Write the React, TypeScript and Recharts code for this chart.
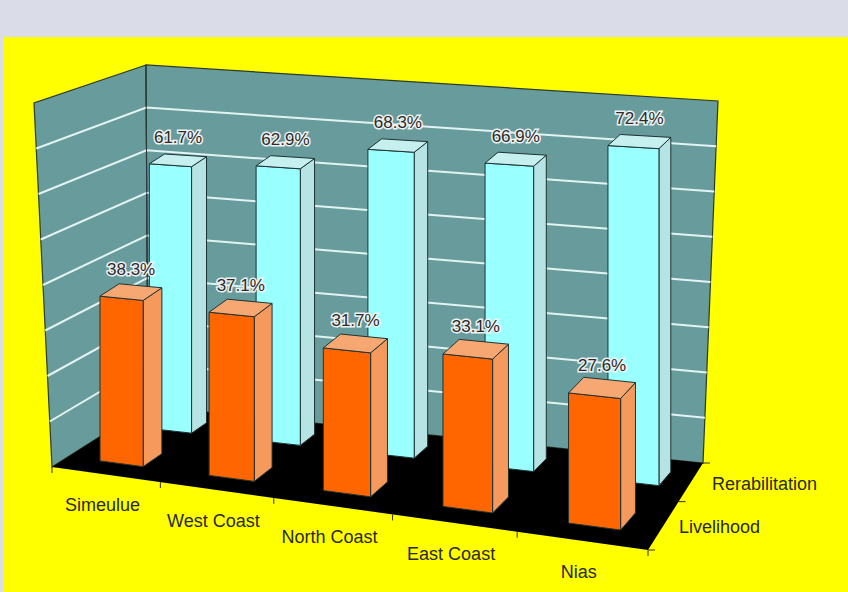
import React from "react";
import { BarChart, Bar, XAxis, YAxis } from "recharts";

const categories = ["Simeulue", "West Coast", "North Coast", "East Coast", "Nias"];
const livelihood = [38.3, 37.1, 31.7, 33.1, 27.6];
const rehabilitation = [61.7, 62.9, 68.3, 66.9, 72.4];
const seriesNames = ["Livelihood", "Rerabilitation"];
const gridTicks = [10, 20, 30, 40, 50, 60, 70];
const Y_MAX = 80;

const data = categories.map((name, i) => ({
  name,
  livelihood: livelihood[i],
  rehab: rehabilitation[i],
}));

const W = 848;
const H = 592;
const FONT = "'Liberation Sans', Arial, sans-serif";

type Pt = [number, number];
const lerp = (p: Pt, q: Pt, t: number): Pt => [p[0] + (q[0] - p[0]) * t, p[1] + (q[1] - p[1]) * t];
// mild perspective along the category and depth directions
const warp = (t: number, r: number) => t / (t + r * (1 - t));
const U_R = 1.125;
const V_R = 0.8;

// box corners as drawn (floor + walls)
const FL: Pt = [52, 467];
const FR: Pt = [648, 550];
const BL: Pt = [148, 406];
const BR: Pt = [703, 463];
const FLt: Pt = [34, 103];
const BLt: Pt = [146, 65];
const BRt: Pt = [718, 101];
// bars stand upright on a slightly wider floor
const BR_BAR: Pt = [720, 463];
const HB = { fl: 342, fr: 387, bl: 341, br: 369 };
// depth span of each row: front = livelihood, back = rehabilitation
const ROWS = [
  [0.14, 0.32],
  [0.64, 0.82],
];

const COLORS = [
  { front: "#ff6600", side: "#f59a5c", top: "#f7a872" },
  { front: "#99ffff", side: "#b6e4e4", top: "#c6efef" },
];

function floorPt(u: number, v: number): Pt {
  const a = warp(u, U_R);
  const b = warp(v, V_R);
  return lerp(lerp(FL, FR, a), lerp(BL, BR, a), b);
}

function barPt(u: number, v: number, w: number): Pt {
  const a = warp(u, U_R);
  const b = warp(v, V_R);
  const base = lerp(lerp(FL, FR, a), lerp(BL, BR_BAR, a), b);
  const h = (HB.fl + (HB.fr - HB.fl) * a) * (1 - b) + (HB.bl + (HB.br - HB.bl) * a) * b;
  return [base[0], base[1] - w * h];
}

const pts = (list: Pt[]) => list.map((p) => p.join(",")).join(" ");

function Bar3D(props: any) {
  const { x, width, height, payload, row, dataKey } = props;
  if (x == null || width == null) return null;
  const u0 = x / W;
  const u1 = (x + width) / W;
  const w = Math.max(0, height) / H;
  const [v0, v1] = ROWS[row];
  const c = COLORS[row];
  const p = (u: number, v: number, h: number) => barPt(u, v, h);
  const front = [p(u0, v0, 0), p(u1, v0, 0), p(u1, v0, w), p(u0, v0, w)];
  const side = [p(u1, v0, 0), p(u1, v1, 0), p(u1, v1, w), p(u1, v0, w)];
  const top = [p(u0, v0, w), p(u1, v0, w), p(u1, v1, w), p(u0, v1, w)];
  const mid = p((u0 + u1) / 2, (v0 + v1) / 2, w);
  const value = payload[dataKey];
  return (
    <g>
      <polygon points={pts(side)} fill={c.side} stroke="#1e3333" strokeWidth={1} strokeLinejoin="round" />
      <polygon points={pts(front)} fill={c.front} stroke="#1e3333" strokeWidth={1} strokeLinejoin="round" />
      <polygon points={pts(top)} fill={c.top} stroke="#1e3333" strokeWidth={1} strokeLinejoin="round" />
      <text
        x={mid[0]}
        y={mid[1] - 17}
        textAnchor="middle"
        fontFamily={FONT}
        fontSize={17}
        fill="#2a2a2a"
        stroke="#eef2f2"
        strokeWidth={3}
        paintOrder="stroke"
      >
        {value.toFixed(1)}%
      </text>
    </g>
  );
}

function Backdrop() {
  const n = categories.length;
  return (
    <svg width={W} height={H} style={{ position: "absolute", left: 0, top: 0 }}>
      <rect x={0} y={0} width={W} height={H} fill="#dadde8" />
      <rect x={3} y={37} width={W - 3} height={H - 37} fill="#ffff00" />
      {/* walls */}
      <polygon points={pts([FL, BL, BLt, FLt])} fill="#689b9b" stroke="#2b3b2b" strokeWidth={1.2} />
      <polygon points={pts([BL, BR, BRt, BLt])} fill="#689b9b" stroke="#2b3b2b" strokeWidth={1.2} />
      {gridTicks.map((t) => {
        const w = t / Y_MAX;
        const a = lerp(FL, FLt, w);
        const b = lerp(BL, BLt, w);
        const c = lerp(BR, BRt, w);
        return (
          <polyline
            key={t}
            points={pts([a, b, c])}
            fill="none"
            stroke="#e2f3f3"
            strokeWidth={2}
          />
        );
      })}
      <line x1={BL[0]} y1={BL[1]} x2={BLt[0]} y2={BLt[1]} stroke="#2b3b3b" strokeWidth={1} />
      {/* floor */}
      <polygon points={pts([FL, FR, BR, BL])} fill="#000000" />
      {/* category ticks + labels */}
      {Array.from({ length: n + 1 }, (_, k) => {
        const p = floorPt(k / n, 0);
        return <line key={k} x1={p[0]} y1={p[1]} x2={p[0]} y2={p[1] + 6} stroke="#333" strokeWidth={1} />;
      })}
      {categories.map((name, i) => {
        const p = floorPt((i + 0.5) / n, 0);
        return (
          <text key={name} x={p[0] - 3} y={p[1] + 37} textAnchor="middle" fontFamily={FONT} fontSize={18} fill="#2a2a2a">
            {name}
          </text>
        );
      })}
      {/* depth ticks + series labels */}
      {[0, 0.5, 1].map((v) => {
        const p = lerp(FR, BR, warp(v, V_R));
        return <line key={v} x1={p[0]} y1={p[1]} x2={p[0] + 7} y2={p[1]} stroke="#333" strokeWidth={1} />;
      })}
      {seriesNames.map((name, r) => {
        const b = warp((ROWS[r][0] + ROWS[r][1]) / 2, V_R);
        const p = lerp(FR, BR, b);
        return (
          <text key={name} x={p[0] + 13 + 11 * b} y={p[1] + 7} fontFamily={FONT} fontSize={18} fill="#2a2a2a">
            {name}
          </text>
        );
      })}
    </svg>
  );
}

export default function App() {
  return (
    <div style={{ position: "absolute", left: 0, top: 0, width: W, height: H }}>
      <Backdrop />
      <div style={{ position: "absolute", left: 0, top: 0 }}>
        <BarChart
          width={W}
          height={H}
          data={data}
          margin={{ top: 0, right: 0, bottom: 0, left: 0 }}
          barCategoryGap="30%"
        >
          <XAxis xAxisId="back" dataKey="name" hide />
          <XAxis xAxisId="front" dataKey="name" hide />
          <YAxis domain={[0, Y_MAX]} hide />
          <Bar
            xAxisId="back"
            dataKey="rehab"
            isAnimationActive={false}
            shape={(p: any) => <Bar3D {...p} row={1} dataKey="rehab" />}
          />
          <Bar
            xAxisId="front"
            dataKey="livelihood"
            isAnimationActive={false}
            shape={(p: any) => <Bar3D {...p} row={0} dataKey="livelihood" />}
          />
        </BarChart>
      </div>
    </div>
  );
}
